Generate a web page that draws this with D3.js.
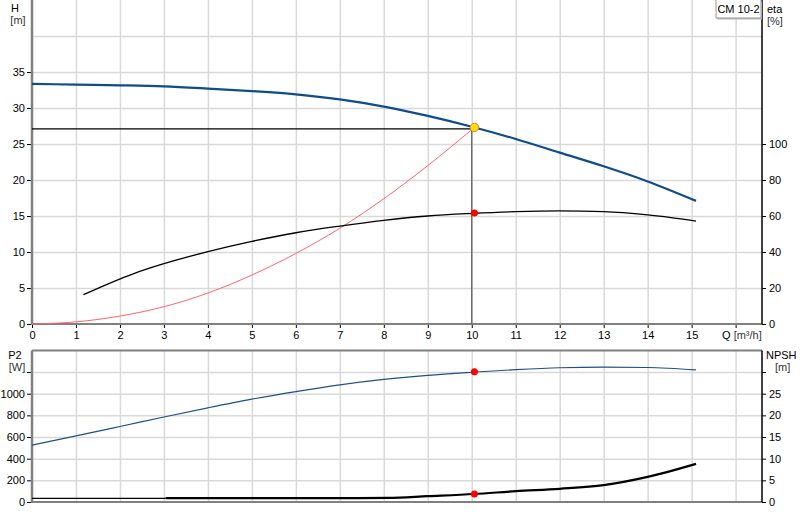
<!DOCTYPE html>
<html>
<head>
<meta charset="utf-8">
<script src="https://cdn.jsdelivr.net/npm/d3@7"></script>
<style>
  body { margin: 0; background: #fff; }
  svg { font-family: "Liberation Sans", Arial, sans-serif; font-size: 11px; }
  .grid line { stroke: #d9d9d9; stroke-width: 1.5; }
  .grid path { display: none; }
  .axis path { display: none; }
  .axis line { stroke: #000; }
  .axis text { fill: #000; font-size: 11px; }
</style>
</head>
<body>
<div id="chart"></div>
<script>
// Pump curve data
var q_ticks = [0, 1, 2, 3, 4, 5, 6, 7, 8, 9, 10, 11, 12, 13, 14, 15, 16]
var q_labels = [0, 1, 2, 3, 4, 5, 6, 7, 8, 9, 10, 11, 12, 13, 14, 15]

var h_q = [0, 1, 2, 3, 4, 5, 6, 7, 8, 9, 10, 11, 12, 13, 14, 15.1]
var h_val = [33.35, 33.25, 33.15, 33.0, 32.7, 32.35, 31.9, 31.2, 30.2, 28.9, 27.4, 25.7, 23.8, 21.9, 19.8, 17.1]

var eta_q = [1.17, 2.3, 3, 4, 5, 6, 7, 8, 9, 10, 11, 12, 13, 14, 15.1]
var eta_val = [16.3, 27.9, 33.5, 40.2, 45.9, 50.7, 54.4, 57.6, 60.0, 61.4, 62.4, 62.8, 62.4, 60.6, 57.2]

var sys_q = [0, 1, 2, 3, 4, 5, 6, 7, 8, 9, 10.06]
var sys_val = [0, 0.3, 1.1, 2.4, 4.3, 6.8, 9.8, 13.3, 17.4, 22.0, 27.3]

var p2_q = [0, 1, 2, 3, 4, 5, 6, 7, 8, 9, 10, 11, 12, 13, 14, 15.1]
var p2_val = [526, 610, 697, 785, 870, 950, 1020, 1082, 1132, 1170, 1198, 1222, 1240, 1246, 1242, 1220]

var npsh_thin_q = [0, 3.04]
var npsh_thin_val = [0.85, 0.85]
var npsh_q = [3.04, 5, 7, 8.1, 9, 10.06, 11, 12, 13, 14, 15.1]
var npsh_val = [0.9, 0.9, 0.9, 0.95, 1.35, 1.85, 2.5, 3.05, 3.9, 5.8, 8.8]

// duty point
var duty_q = 10.06
var duty_h = 27.3
var duty_eta = 61.7
var duty_p2 = 1203
var duty_npsh = 1.85

var h_ticks = [0, 5, 10, 15, 20, 25, 30, 35]
var eta_ticks = [0, 20, 40, 60, 80, 100]
var p2_ticks = [0, 200, 400, 600, 800, 1000, 1200]
var npsh_ticks = [0, 5, 10, 15, 20, 25, 30]

var title = "CM 10-2"

const W = 800, H = 520
const left = 32, right = 762
const top1 = 0, bottom1 = 324
const top2 = 350.4, bottom2 = 502

var svg = d3.select("#chart").append("svg")
  .attr("width", W).attr("height", H)

// Scales
var x = d3.scaleLinear().domain([0, 16.6]).range([left, right])
var yH = d3.scaleLinear().domain([0, 45]).range([bottom1, top1])
var yEta = d3.scaleLinear().domain([0, 180]).range([bottom1, top1])
var yP2 = d3.scaleLinear().domain([0, 1400]).range([bottom2, top2])
var yNpsh = d3.scaleLinear().domain([0, 35]).range([bottom2, top2])

function zip(a, b) { return a.map(function(v, i) { return [v, b[i]] }) }

// Grid, top
svg.append("g").attr("class", "grid")
  .attr("transform", "translate(0," + bottom1 + ")")
  .call(d3.axisBottom(x).tickValues(q_ticks.slice(1)).tickSize(-(bottom1 - top1)).tickFormat(""))
svg.append("g").attr("class", "grid")
  .attr("transform", "translate(" + left + ",0)")
  .call(d3.axisLeft(yH).tickValues([5, 10, 15, 20, 25, 30, 35, 40]).tickSize(-(right - left)).tickFormat(""))

// Grid, bottom
svg.append("g").attr("class", "grid")
  .attr("transform", "translate(0," + bottom2 + ")")
  .call(d3.axisBottom(x).tickValues(q_ticks.slice(1)).tickSize(-(bottom2 - top2)).tickFormat(""))
svg.append("g").attr("class", "grid")
  .attr("transform", "translate(" + left + ",0)")
  .call(d3.axisLeft(yP2).tickValues(p2_ticks.slice(1)).tickSize(-(right - left)).tickFormat(""))

// Axes, top
svg.append("g").attr("class", "axis")
  .attr("transform", "translate(" + left + ",0)")
  .call(d3.axisLeft(yH).tickValues(h_ticks).tickSize(5).tickPadding(2))
svg.append("g").attr("class", "axis")
  .attr("transform", "translate(" + right + ",0)")
  .call(d3.axisRight(yEta).tickValues(eta_ticks).tickSize(4).tickPadding(3))
svg.append("g").attr("class", "axis")
  .attr("transform", "translate(0," + bottom1 + ")")
  .call(d3.axisBottom(x).tickValues(q_ticks).tickSize(4).tickPadding(3)
    .tickFormat(function(d) { return q_labels.indexOf(d) >= 0 ? d : "" }))

// Axes, bottom
svg.append("g").attr("class", "axis")
  .attr("transform", "translate(" + left + ",0)")
  .call(d3.axisLeft(yP2).tickValues(p2_ticks).tickSize(5).tickPadding(2)
    .tickFormat(function(d) { return d == 1200 ? "" : d }))
svg.append("g").attr("class", "axis")
  .attr("transform", "translate(" + right + ",0)")
  .call(d3.axisRight(yNpsh).tickValues(npsh_ticks).tickSize(4).tickPadding(3)
    .tickFormat(function(d) { return d == 30 ? "" : d }))

// Frame lines
function hline(y, x1, x2, color, w) {
  svg.append("line").attr("x1", x1).attr("x2", x2).attr("y1", y).attr("y2", y)
    .style("stroke", color).style("stroke-width", w)
}
function vline(xx, y1, y2, color, w) {
  svg.append("line").attr("x1", xx).attr("x2", xx).attr("y1", y1).attr("y2", y2)
    .style("stroke", color).style("stroke-width", w)
}
hline(bottom1, left, right, "#808080", 2)
hline(top2, left, right, "#808080", 2)
hline(bottom2, left, right, "#808080", 2)
vline(left, top1, bottom1 + 1, "#808080", 2.5)
vline(left, top2, bottom2 + 1, "#808080", 2.5)
vline(right, top1, bottom1, "#000", 1.5)
vline(right, top2, bottom2, "#000", 1.5)

// Curves
var lineGen = function(ys) {
  return d3.line().curve(d3.curveMonotoneX)
    .x(function(d) { return x(d[0]) })
    .y(function(d) { return ys(d[1]) })
}

// duty lines
svg.append("line")
  .attr("x1", x(0)).attr("x2", x(duty_q) - 2)
  .attr("y1", yH(duty_h) + 1.5).attr("y2", yH(duty_h) + 1.5)
  .style("stroke", "#000").style("stroke-width", 1.2)
svg.append("line")
  .attr("x1", x(10)).attr("x2", x(10))
  .attr("y1", yH(duty_h) + 1.5).attr("y2", bottom1)
  .style("stroke", "#555").style("stroke-width", 1.2)

svg.append("path").datum(zip(sys_q, sys_val))
  .attr("d", lineGen(yH)).style("fill", "none")
  .style("stroke", "#ff6666").style("stroke-width", 1)

svg.append("path").datum(zip(eta_q, eta_val))
  .attr("d", lineGen(yEta)).style("fill", "none")
  .style("stroke", "#000").style("stroke-width", 1.3)

svg.append("path").datum(zip(h_q, h_val))
  .attr("d", lineGen(yH)).style("fill", "none")
  .style("stroke", "#0f4c8a").style("stroke-width", 2.2)

svg.append("path").datum(zip(p2_q, p2_val))
  .attr("d", lineGen(yP2)).style("fill", "none")
  .style("stroke", "#1f4f88").style("stroke-width", 1.2)

svg.append("path").datum(zip(npsh_thin_q, npsh_thin_val))
  .attr("d", lineGen(yNpsh)).style("fill", "none")
  .style("stroke", "#000").style("stroke-width", 1.2)

svg.append("path").datum(zip(npsh_q, npsh_val))
  .attr("d", lineGen(yNpsh)).style("fill", "none")
  .style("stroke", "#000").style("stroke-width", 2.2)

// Points
svg.append("circle").attr("cx", x(duty_q)).attr("cy", yEta(duty_eta)).attr("r", 3.5).attr("fill", "#ff0000")
svg.append("circle").attr("cx", x(duty_q)).attr("cy", yP2(duty_p2)).attr("r", 3.5).attr("fill", "#ff0000")
svg.append("circle").attr("cx", x(duty_q)).attr("cy", yNpsh(duty_npsh)).attr("r", 3.5).attr("fill", "#ff0000")
svg.append("circle").attr("cx", x(duty_q)).attr("cy", yH(duty_h)).attr("r", 4.2)
  .attr("fill", "#ffe000").attr("stroke", "#f08020").attr("stroke-width", 1)

// Axis titles
function label(txt, xx, yy, anchor, color) {
  svg.append("text").attr("x", xx).attr("y", yy)
    .attr("text-anchor", anchor || "start")
    .style("fill", color || "#000").style("font-size", "11px")
    .text(txt)
}
label("H", 15, 12, "middle")
label("[m]", 18, 24, "middle", "#333")
label("eta", 767, 13)
label("[%]", 767, 25, "start", "#333")
label("P2", 15, 359, "middle")
label("[W]", 17, 371, "middle", "#333")
label("NPSH", 766, 359)
label("[m]", 775, 371, "start", "#333")

var qlab = svg.append("text").attr("x", 722).attr("y", 339).style("font-size", "11px")
qlab.append("tspan").style("fill", "#000").text("Q ")
qlab.append("tspan").style("fill", "#333").text("[m³/h]")

// Title box
svg.append("rect").attr("x", 717.5).attr("y", 1.5).attr("width", 44.5).attr("height", 18)
  .attr("fill", "#bbb")
svg.append("rect").attr("x", 716).attr("y", -0.5).attr("width", 45).attr("height", 18.5)
  .attr("fill", "#fff").attr("stroke", "#999").attr("stroke-width", 1)
label(title, 738.5, 13, "middle")
</script>
</body>
</html>
